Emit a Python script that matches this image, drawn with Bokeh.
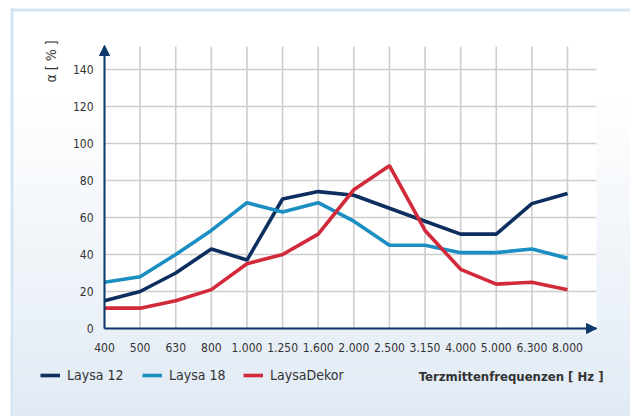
import numpy as np
from bokeh.plotting import figure
from bokeh.models import (Range1d, FixedTicker, Arrow, NormalHead, Label, Legend,
                          LegendItem, BoxAnnotation)
from bokeh.embed import file_html
from bokeh.resources import INLINE

# ---- data ----
freq_labels = ["400", "500", "630", "800", "1.000", "1.250", "1.600", "2.000",
               "2.500", "3.150", "4.000", "5.000", "6.300", "8.000"]
laysa12 = [15, 20, 30, 43, 37, 70, 74, 72, 65, 58, 51, 51, 67.5, 73]
laysa18 = [25, 28, 40, 53, 68, 63, 68, 58, 45, 45, 41, 41, 43, 38]
laysadekor = [11, 11, 15, 21, 35, 40, 51, 75, 88, 53, 32, 24, 25, 21]
series_names = ["Laysa 12", "Laysa 18", "LaysaDekor"]
y_ticks = [0, 20, 40, 60, 80, 100, 120, 140]

NAVY = "#0c2f5f"
BLUE = "#1b8ec2"
RED = "#d22a3a"
AXIS = "#0f3a6e"
FONT = "'DejaVu Sans Condensed', 'Liberation Sans Narrow', 'Roboto Condensed', Roboto, sans-serif"
TXT = "#333333"

x = list(range(len(freq_labels)))
W, H = 630, 416
X0PX, X13PX = 104, 567      # pixel of first / last category
Y0PX, Y140PX = 328, 69      # pixel of 0 / 140
PX = 13.0 / (X13PX - X0PX)
PY = 140.0 / (Y0PX - Y140PX)
def dx(px):
    return (px - X0PX) * PX
def dy(py):
    return (Y0PX - py) * PY

XMAX = dx(596)   # right end of plot area
YMAX = dy(46)    # top end of plot area

p = figure(width=W, height=H, output_backend="svg", toolbar_location=None,
           x_range=Range1d(dx(0), dx(W)), y_range=Range1d(dy(H), dy(0)),
           min_border=0, min_border_left=0, min_border_right=0,
           min_border_top=0, min_border_bottom=0)
p.outline_line_color = None
p.background_fill_color = "white"
p.border_fill_color = "white"
p.xgrid.visible = False
p.ygrid.visible = False

# ---- panel background (gradient bands + border) ----
top_col = np.array([255, 255, 255])
bot_col = np.array([225, 234, 244])
g0, g1 = 90, 416
nb = 40
for i in range(nb):
    ya = g0 + (g1 - g0) * i / nb
    yb = g0 + (g1 - g0) * (i + 1) / nb
    t = (i + 0.5) / nb
    c = top_col + (bot_col - top_col) * t
    col = "#%02x%02x%02x" % tuple(int(round(v)) for v in c)
    p.add_layout(BoxAnnotation(left=dx(13), right=dx(640), top=dy(ya - 0.5), bottom=dy(yb + 0.5),
                               fill_color=col, fill_alpha=1, line_color=None, level="image"))
p.add_layout(BoxAnnotation(left=dx(10), right=dx(640), top=dy(8), bottom=dy(11),
                           fill_color="#d3e5f2", fill_alpha=1, line_color=None, level="image"))
p.add_layout(BoxAnnotation(left=dx(10), right=dx(13), top=dy(8), bottom=dy(420),
                           fill_color="#d3e5f2", fill_alpha=1, line_color=None, level="image"))
p.add_layout(BoxAnnotation(left=0, right=XMAX, top=YMAX, bottom=0,
                           fill_color="white", fill_alpha=1, line_color=None, level="image"))

# ---- grid lines ----
n = len(x)
p.segment(x0=x, y0=[0] * n, x1=x, y1=[YMAX] * n, line_color="#cdcdcd", line_width=1.6)
p.segment(x0=[0] * len(y_ticks), y0=y_ticks, x1=[XMAX] * len(y_ticks), y1=y_ticks,
          line_color="#cdcdcd", line_width=1.6)

# ---- axes ----
p.xaxis.ticker = FixedTicker(ticks=x)
p.xaxis.major_label_overrides = {i: l for i, l in enumerate(freq_labels)}
p.yaxis.ticker = FixedTicker(ticks=y_ticks)
p.xaxis.fixed_location = 0
p.yaxis.fixed_location = 0
p.xaxis.bounds = (0, XMAX)
p.yaxis.bounds = (0, YMAX)
for ax in (p.xaxis[0], p.yaxis[0]):
    ax.axis_line_color = AXIS
    ax.axis_line_width = 2
    ax.major_tick_line_color = None
    ax.minor_tick_line_color = None
    ax.major_tick_out = 0
    ax.major_tick_in = 0
    ax.minor_tick_out = 0
    ax.major_label_text_font = FONT
    ax.major_label_text_font_size = "12px"
    ax.major_label_text_color = TXT
p.xaxis.major_label_standoff = 14
p.yaxis.major_label_standoff = 11

# arrows
p.add_layout(Arrow(end=NormalHead(size=10, fill_color=AXIS, line_color=AXIS, line_width=1),
                   x_start=XMAX - 0.3, y_start=0, x_end=XMAX, y_end=0,
                   line_color=AXIS, line_width=2))
p.add_layout(Arrow(end=NormalHead(size=10, fill_color=AXIS, line_color=AXIS, line_width=1),
                   x_start=0, y_start=YMAX - 5, x_end=0, y_end=dy(45),
                   line_color=AXIS, line_width=2))

# ---- lines ----
r1 = p.line(x, laysa12, line_color=NAVY, line_width=3.6)
r2 = p.line(x, laysa18, line_color=BLUE, line_width=3.6)
r3 = p.line(x, laysadekor, line_color=RED, line_width=3.6)

# ---- legends ----
leg_x = [40, 142, 243]
for rr, name, lx in zip([r1, r2, r3], series_names, leg_x):
    lg = Legend(items=[LegendItem(label=name, renderers=[rr])], location=(lx, H - 385),
                orientation="horizontal", padding=0, margin=0, border_line_color=None,
                background_fill_alpha=0, glyph_width=20, glyph_height=20, label_height=20,
                label_standoff=7, label_text_font=FONT, label_text_font_size="14px",
                label_text_color=TXT)
    p.add_layout(lg, "center")

# ---- text labels ----
p.add_layout(Label(x=dx(603), y=dy(376), text="Terzmittenfrequenzen [ Hz ]",
                   text_align="right", text_baseline="middle", text_font=FONT,
                   text_font_size="13px", text_font_style="bold", text_color=TXT))
p.add_layout(Label(x=dx(50), y=dy(61), text="α [ % ]", angle=np.pi / 2,
                   text_align="center", text_baseline="middle", text_font=FONT,
                   text_font_size="14px", text_color=TXT))

open("out.html", "w").write(file_html(p, INLINE))
